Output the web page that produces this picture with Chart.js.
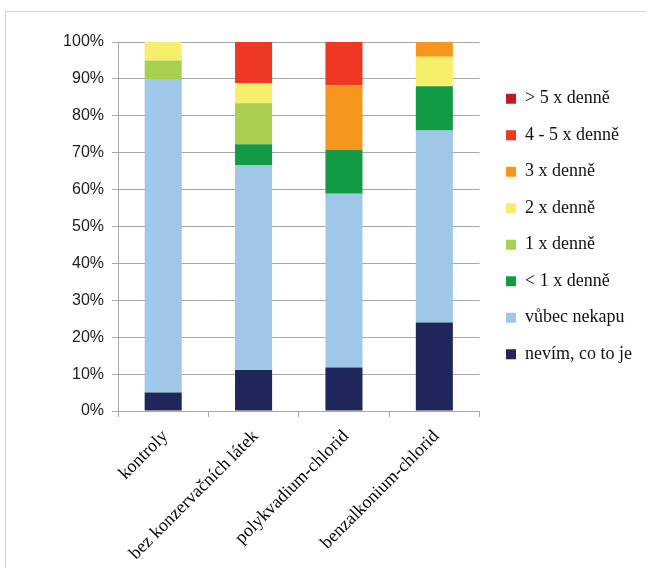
<!DOCTYPE html>
<html><head><meta charset="utf-8">
<script src="https://cdn.jsdelivr.net/npm/chart.js@4"></script>
<style>
html,body{margin:0;padding:0;background:#fff;overflow:hidden;width:646px;height:568px;}
#frame{position:absolute;left:5px;top:11px;width:700px;height:700px;border:1px solid #d4d4d4;}
#c{position:absolute;left:0;top:0;}
</style></head><body>
<div id="frame"></div>
<canvas id="c" width="646" height="568"></canvas>
<script>
const categories = ['kontroly','bez konzervačních látek','polykvadium-chlorid','benzalkonium-chlorid'];
const seriesNames = ['nevím, co to je','vůbec nekapu','< 1 x denně','1 x denně','2 x denně','3 x denně','4 - 5 x denně','> 5 x denně'];
const nevim   = [5, 11.1, 11.8, 24];
const vubec   = [85, 55.6, 47.1, 52];
const lt1     = [0, 5.6, 11.8, 12];
const x1      = [5, 11.1, 0, 0];
const x2      = [5, 5.5, 0, 8];
const x3      = [0, 0, 17.6, 4];
const x45     = [0, 11.1, 11.7, 0];
const gt5     = [0, 0, 0, 0];
const yTicks  = [0,10,20,30,40,50,60,70,80,90,100];

const colors = ['#1f275b','#9fc7e8','#139a44','#a9cf51','#f6ef6b','#f7961e','#ee3823','#c11b20'];
const values = [nevim, vubec, lt1, x1, x2, x3, x45, gt5];

const datasets = values.map((v,i)=>({
  label: seriesNames[i], data: v, backgroundColor: colors[i], borderWidth: 0,
  categoryPercentage: 1, barPercentage: 0.41
}));

new Chart(document.getElementById('c'), {
  type: 'bar',
  data: { labels: categories, datasets },
  options: {
    responsive: false, animation: false,
    layout: { padding: { top: 42, left: 0, right: 4, bottom: 0 } },
    plugins: {
      tooltip: { enabled: false },
      legend: {
        position: 'right', reverse: true, align: 'center', fullSize: false, maxWidth: 220,
        labels: { boxWidth: 10, boxHeight: 10, padding: 18.5, color: '#111',
          font: { family: 'Liberation Serif', size: 18 } }
      }
    },
    scales: {
      x: {
        stacked: true,
        grid: { display: true, drawOnChartArea: false, offset: true, color: '#a8a8a8', tickLength: 6 },
        border: { color: '#a8a8a8' },
        ticks: { minRotation: 45, maxRotation: 45, color: '#000', padding: 9, labelOffset: 2,
          font: { family: 'Liberation Serif', size: 18 } },
        afterFit: s => { s.height = 157; }
      },
      y: {
        stacked: true, min: 0, max: 100,
        afterBuildTicks: s => { s.ticks = yTicks.map(v=>({value:v})); },
        grid: { color: '#a8a8a8', tickLength: 6 },
        border: { color: '#a8a8a8' },
        ticks: { callback: v => v + '%', color: '#222', padding: 8,
          font: { family: 'Liberation Sans', size: 16 } },
        afterFit: s => { s.width = 118; }
      },
      gap: {
        type: 'linear', position: 'right', display: true,
        grid: { display: false }, border: { display: false },
        ticks: { display: false },
        afterFit: s => { s.width = 8; }
      }
    }
  }
});
</script>
</body></html>
